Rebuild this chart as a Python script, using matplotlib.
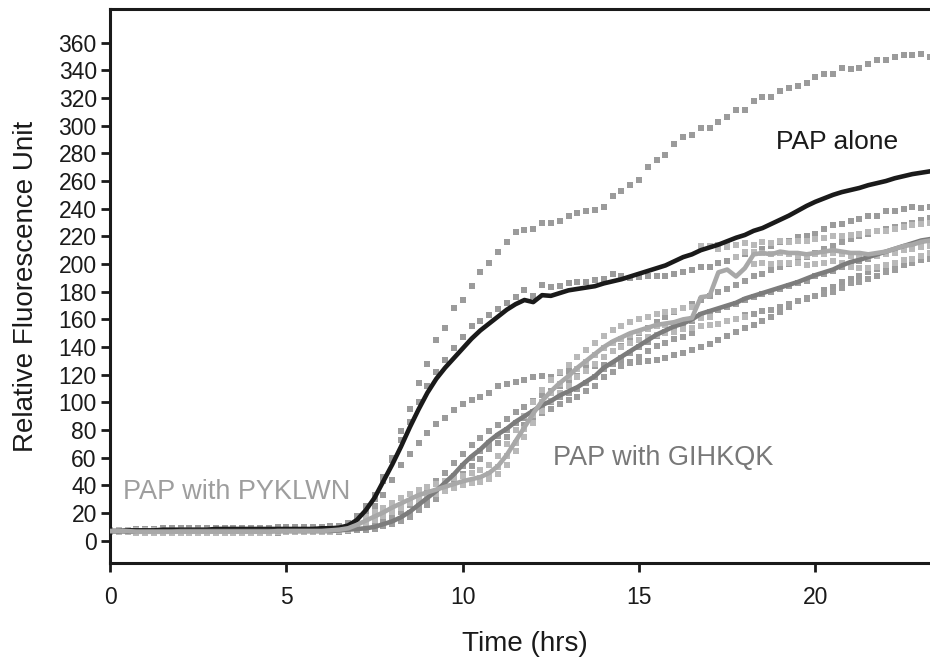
import numpy as np
import matplotlib
matplotlib.use("Agg")
import matplotlib.pyplot as plt

plt.rcParams['font.family'] = ['Liberation Sans', 'DejaVu Sans']

# sampling times (hours), one reading every 15 min
time_hrs = np.arange(94) * 0.25

# ---- PAP alone: mean line and three replicates ----
pap_alone_mean = [7, 7, 7.5, 7.5, 7.5, 7.5, 8, 8, 8, 8, 8, 8, 8.5, 8.5, 8.5, 8.5, 8.5, 8.5, 8.5, 8.5, 8.5, 8.5, 8.5, 8.5, 9, 9, 9.5,
                  11, 15, 22, 31, 43, 55, 68, 82, 95, 107, 117, 125, 132,
                  139, 146, 152, 157, 162, 167, 171, 174, 172.5, 177.5, 177, 179,
                  181, 182, 183, 184, 186, 187.5, 189, 191, 193, 195, 197, 199,
                  202, 205, 207, 210, 212, 214, 216.5, 219, 221, 224, 226, 229,
                  232, 235, 238.5, 242, 245, 247.5, 250, 252, 253.5, 255, 257, 258.5,
                  260, 262, 263.5, 265, 266, 267]
pap_alone_rep1 = [8, 8, 8, 8.5, 8.5, 8.5, 9, 9, 9, 9, 9, 9, 9.5, 9.5, 9.5, 9.5, 9.5, 9.5, 9.5, 10, 10, 10, 10, 10, 10, 10.5, 11,
                  13, 18, 25, 33, 46, 60, 79, 95, 114, 128, 145, 154, 168,
                  174, 184, 194, 201, 208.5, 216, 223, 224.5, 225, 230, 229.5, 231,
                  235, 237, 238, 239, 241.5, 249.5, 253, 257, 261, 270, 275, 279,
                  287, 292, 293, 298, 298, 302.5, 306, 311, 311, 318, 320.5, 320.5,
                  325, 327, 329, 330.5, 335, 337, 337, 342, 341, 342, 344.5, 347.5,
                  347.5, 350, 351, 351, 352, 350]
pap_alone_rep2 = [7, 7, 7, 7, 7.5, 7.5, 7.5, 8, 8, 8, 8, 8, 8, 8, 8.5, 8.5, 8.5, 8, 8.5, 8.5, 8.5, 8.5, 8, 8.5, 8.5, 9, 9,
                  10.5, 14, 21, 30, 43, 58, 73, 86, 100, 112, 122, 131, 139,
                  147, 155, 158.5, 163, 167.5, 172, 176, 181.5, 177, 185, 183.5, 184,
                  186.5, 187, 187, 188.5, 189, 193, 191.5, 190, 190.5, 191, 191, 191,
                  193, 194.5, 195.5, 197.5, 198, 200.5, 202, 205, 207, 209, 211, 213,
                  216, 217, 219.5, 220.5, 222, 225, 228, 229, 231, 232.5, 235, 235,
                  238.5, 238, 240, 241, 240.5, 241]
pap_alone_rep3 = [6, 6, 6.5, 6.5, 6.5, 7, 7, 7, 7, 7, 7.5, 7.5, 7.5, 7.5, 7.5, 7.5, 7.5, 7.5, 7.5, 7.5, 7.5, 8, 8, 8, 8, 8, 8.5,
                  10, 13, 19.5, 25, 33, 44, 55, 63, 71, 78, 84.5, 88.5, 94.5,
                  99, 102, 104, 107, 112, 113.5, 115, 116.5, 118, 119, 118.5, 121,
                  123, 124, 125, 126, 127, 128, 128, 128.5, 129, 130, 131, 132,
                  134, 136, 138, 140, 142, 145, 148, 151, 154, 156, 159, 162,
                  165, 169, 173, 175, 177, 181, 183.5, 187, 189.5, 191.5, 194.5, 196.5,
                  198, 200, 201.5, 203, 204, 205]

# ---- PAP with GIHKQK ----
gihkqk_mean = [7, 7, 6.5, 6.5, 6.5, 6.5, 6.5, 6.5, 7, 7, 7, 7, 7, 7, 7, 7, 7, 7, 7, 7, 7, 7, 7, 7, 7, 7, 7.5,
               8, 8.5, 9, 10, 12, 14, 17, 21, 26, 31, 36, 42, 48,
               55, 61, 66, 72, 77, 81, 86, 90, 94, 98, 101, 105,
               108, 111, 115, 119, 125, 129, 133, 137, 141, 145, 149, 152,
               155, 157, 160, 164, 166, 168, 170, 172, 175, 177, 179, 181,
               183, 185, 187, 189.5, 192, 194, 196, 199, 201.5, 203, 205, 207,
               209, 211, 213, 215, 217, 218]
gihkqk_rep1 = [8, 8, 7.5, 7.5, 7.5, 7.5, 7.5, 7.5, 8, 8, 8, 8, 8, 8, 8, 8, 8, 8, 8, 8, 8, 8, 8, 8, 8, 8, 8.5,
               9, 9.5, 10.5, 12, 14.5, 17, 21, 26, 31, 37, 43, 49, 56,
               63, 69, 74, 79, 84, 88, 93, 97, 101, 105, 108, 112,
               115, 119, 123, 127, 133, 137, 141, 146, 150, 154, 158, 162,
               165, 168, 171, 174, 177, 180, 182, 185, 188, 191, 193, 196,
               198, 200, 202, 205, 208, 211, 213, 216, 218, 220, 222, 224,
               225, 227, 228, 230, 232, 233]
gihkqk_rep2 = [7, 7, 6.5, 6.5, 6.5, 6.5, 6.5, 6.5, 6.5, 6.5, 6.5, 6.5, 6.5, 6.5, 6.5, 6.5, 6.5, 6.5, 6.5, 6.5, 6.5, 6.5, 6.5, 6.5, 7, 7, 7,
               8, 8, 8.5, 9.5, 11, 13, 16, 20, 25, 30, 35, 41, 47,
               54, 60, 65, 71, 76, 80, 85, 89, 93, 97, 100, 104,
               107, 110, 114, 118, 124, 128, 132, 136, 140, 144, 148, 151,
               154, 156, 159, 163, 165, 167, 169, 171, 174, 176, 178, 180,
               182, 184, 186, 188, 191, 193, 195, 198, 200, 202, 204, 206,
               208, 210, 212, 214, 216, 217]
gihkqk_rep3 = [6, 6, 6, 6, 5.5, 5.5, 5.5, 5.5, 5.5, 5.5, 5.5, 5.5, 5.5, 5.5, 5.5, 5.5, 5.5, 5.5, 5.5, 5.5, 6, 6, 6, 6, 6, 6, 6.5,
               7, 7.5, 8, 8.5, 10.5, 12, 14, 17, 22, 26, 30, 36, 41,
               48, 54, 59, 66, 71, 75, 80, 84, 88, 92, 95, 99,
               102, 104, 108, 112, 118, 122, 126, 129, 133, 137, 141, 143,
               146, 147, 150, 155, 156, 157, 159, 160, 163, 164, 166, 167,
               169, 171, 173, 175.5, 177, 178, 180, 183, 186.5, 187, 189, 191,
               194, 196, 199, 201, 203, 204]

# ---- PAP with PYKLWN ----
pyklwn_mean = [7, 7, 7, 6.5, 6.5, 6.5, 6.5, 6.5, 6.5, 6.5, 6.5, 6.5, 6.5, 6.5, 6.5, 6.5, 6.5, 6.5, 6.5, 7, 7, 7, 7, 7, 7, 7.5, 8,
               9, 11.5, 14.5, 17.5, 20.5, 24, 27, 30, 33, 35, 37, 39, 41,
               43, 44.5, 46, 49, 54, 62, 72, 82, 92, 101, 108, 114,
               119, 125, 130, 135, 140, 144, 147, 150, 152, 154, 156, 157,
               158, 160, 161, 176, 177, 194, 196, 191, 197, 207, 208, 207,
               209, 208, 208, 207, 208, 209, 210, 209, 208, 208, 207, 208,
               209, 211, 213, 214, 216, 217]
pyklwn_rep1 = [8, 8, 7.5, 7.5, 7.5, 7.5, 7.5, 7.5, 7.5, 7.5, 7.5, 7.5, 7.5, 7.5, 7.5, 7.5, 8, 8, 8, 8, 8, 8, 8, 8, 8, 8.5, 9,
               10, 13.5, 17, 20.5, 24, 27.5, 31, 34, 37, 39, 41, 43, 45,
               47, 49, 51, 55, 61, 70, 80, 90, 100, 109, 116, 122,
               127, 133, 138, 143, 148, 152, 155, 158, 160, 162, 164, 165,
               166, 168, 169, 213, 213, 214, 214, 214, 215, 214, 216, 215,
               217, 216, 217, 217, 218, 219, 220, 220, 221, 222, 223, 224,
               224, 225, 227, 228, 229, 230]
pyklwn_rep2 = [6.5, 6.5, 6.5, 6, 6, 6, 6, 6, 6, 6, 6, 6, 6, 6, 6, 6, 6, 6, 6, 6.5, 6.5, 6.5, 6.5, 6.5, 6.5, 7, 7.5,
               8.5, 11, 14, 17, 20, 23, 26, 29, 32, 34, 36, 38, 40,
               42, 43.5, 45, 48, 53, 61, 71, 81, 91, 100, 107, 113,
               118, 124, 129, 134, 139, 143, 146, 149, 151, 153, 155, 156,
               157, 159, 160, 161, 162, 211, 212, 205, 209, 209, 208, 207,
               208, 207, 206, 206, 207, 207, 208, 207, 206, 206, 205, 206,
               207, 208, 210, 211, 212, 213]
pyklwn_rep3 = [6, 6, 6, 5.5, 5.5, 5.5, 5.5, 5.5, 5.5, 5.5, 5.5, 5.5, 5.5, 5.5, 5.5, 5.5, 5.5, 5.5, 5.5, 6, 6, 6, 6, 6, 6, 6.5, 7,
               8, 10, 12.5, 15, 18, 21, 24, 27, 29.5, 32, 34, 36, 38,
               40, 41.5, 42.5, 44.5, 48.5, 55, 65, 75, 85, 94, 101, 107,
               112, 118, 123, 128, 133, 137, 140, 143, 145, 147, 149, 150,
               151, 153, 154, 155, 156, 157, 159, 160, 162, 200, 201, 200,
               201, 201, 201, 199, 200, 201, 202, 201, 198, 197, 197, 198,
               199, 201, 203, 204, 206, 208]

y_ticks = list(range(0, 361, 20))
x_ticks = [0, 5, 10, 15, 20]
labels = {"alone": "PAP alone", "gih": "PAP with GIHKQK", "pyk": "PAP with PYKLWN"}

for arr in [pap_alone_mean, pap_alone_rep1, pap_alone_rep2, pap_alone_rep3,
            gihkqk_mean, gihkqk_rep1, gihkqk_rep2, gihkqk_rep3,
            pyklwn_mean, pyklwn_rep1, pyklwn_rep2, pyklwn_rep3]:
    assert len(arr) == len(time_hrs), len(arr)

fig = plt.figure(figsize=(9.3, 6.62), dpi=100)
ax = fig.add_axes([0.1183, 0.1491, 0.8817, 0.8366])

msq = dict(marker='s', linestyle='none', markersize=4.8, markeredgewidth=0)
c_pap_sq = '#9b9b9b'
c_gih_sq = '#9d9d9d'
c_pyk_sq = '#b9b9b9'

for r in (pap_alone_rep1, pap_alone_rep2, pap_alone_rep3):
    ax.plot(time_hrs, r, color=c_pap_sq, zorder=2, **msq)
for r in (gihkqk_rep1, gihkqk_rep2, gihkqk_rep3):
    ax.plot(time_hrs, r, color=c_gih_sq, zorder=2, **msq)
for r in (pyklwn_rep1, pyklwn_rep2, pyklwn_rep3):
    ax.plot(time_hrs, r, color=c_pyk_sq, zorder=2, **msq)

ax.plot(time_hrs, pap_alone_mean, color='#1a1a1a', lw=3.3, zorder=2.5, solid_joinstyle='round')
ax.plot(time_hrs, gihkqk_mean, color='#7c7c7c', lw=3.3, zorder=3, solid_joinstyle='round')
ax.plot(time_hrs, pyklwn_mean, color='#a8a8a8', lw=3.3, zorder=3, solid_joinstyle='round')

ax.set_xlim(0, 23.25)
ax.set_ylim(-16.3, 384)
ax.set_xticks(x_ticks)
ax.set_yticks(y_ticks)

for s in ('left', 'bottom', 'top'):
    ax.spines[s].set_linewidth(2.2)
    ax.spines[s].set_color('#1a1a1a')
ax.spines['right'].set_visible(False)

ax.tick_params(axis='y', direction='out', length=6.5, width=2.0, color='#1a1a1a',
               labelsize=16.5, pad=3, labelcolor='#1a1a1a')
ax.tick_params(axis='x', direction='out', length=6.8, width=2.0, color='#1a1a1a',
               labelsize=16.5, pad=9.5, labelcolor='#1a1a1a')
ax.tick_params(top=False, right=False)

ax.set_ylabel('Relative Fluorescence Unit', fontsize=20, color='#1a1a1a')
ax.yaxis.set_label_coords(-0.0866, 0.5)
ax.set_xlabel('Time (hrs)', fontsize=20, color='#1a1a1a')
ax.xaxis.set_label_coords(0.506, -0.1215)

ax.text(18.88, 288, labels["alone"], fontsize=19, color='#1a1a1a', ha='left', va='center', zorder=5)
ax.text(12.55, 59.8, labels["gih"], fontsize=19.5, color='#787878', ha='left', va='center', zorder=5)
ax.text(0.36, 35.4, labels["pyk"], fontsize=19.5, color='#9e9e9e', ha='left', va='center', zorder=5)

fig.savefig('out.png', dpi=100)
